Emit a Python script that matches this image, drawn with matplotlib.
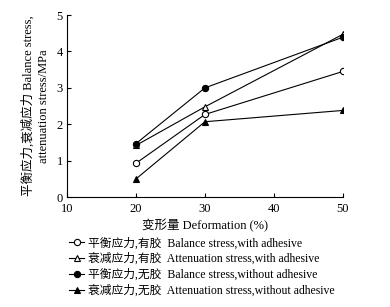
import matplotlib
matplotlib.use("Agg")
import matplotlib.pyplot as plt

plt.rcParams['font.family'] = ['Liberation Serif', 'Noto Sans CJK SC']

deformation = [20, 30, 50]
balance_with = [0.93, 2.27, 3.45]
atten_with = [1.42, 2.48, 4.47]
balance_without = [1.47, 3.0, 4.39]
atten_without = [0.5, 2.07, 2.38]

labels = [
    "平衡应力,有胶  Balance stress,with adhesive",
    "衰减应力,有胶  Attenuation stress,with adhesive",
    "平衡应力,无胶  Balance stress,without adhesive",
    "衰减应力,无胶  Attenuation stress,without adhesive",
]

fig = plt.figure(figsize=(3.9, 3.07), dpi=100)
ax = fig.add_axes([0.172, 0.358, 0.707, 0.593])

series = [
    (balance_with, 'o', 'white'),
    (atten_with, '^', 'white'),
    (balance_without, 'o', 'black'),
    (atten_without, '^', 'black'),
]
handles = []
for vals, m, fc in series:
    h, = ax.plot(deformation, vals, color='black', lw=0.8, marker=m,
                 markersize=4.5, markerfacecolor=fc, markeredgecolor='black',
                 markeredgewidth=0.8)
    handles.append(h)

ax.set_xlim(10, 50)
ax.set_ylim(0, 5)
ax.set_xticks([10, 20, 30, 40, 50])
ax.set_yticks([0, 1, 2, 3, 4, 5])
ax.tick_params(direction='in', length=3, width=0.8, labelsize=9)
ax.tick_params(axis='x', pad=4)
ax.tick_params(axis='y', pad=3)
ax.spines['top'].set_visible(False)
ax.spines['right'].set_visible(False)
for s in ['left', 'bottom']:
    ax.spines[s].set_linewidth(0.8)

ax.set_xlabel("变形量 Deformation (%)", fontsize=9, labelpad=3)
ax.set_ylabel("平衡应力,衰减应力 Balance stress,\nattenuation stress/MPa",
              fontsize=9, labelpad=5, linespacing=1.35)

fig.legend(handles, labels, loc='upper left', bbox_to_anchor=(0.178, 0.228),
           frameon=False, fontsize=8.5, handlelength=1.2, handletextpad=0.4,
           labelspacing=0.3, borderpad=0, borderaxespad=0)

fig.savefig("out.png", dpi=100)
